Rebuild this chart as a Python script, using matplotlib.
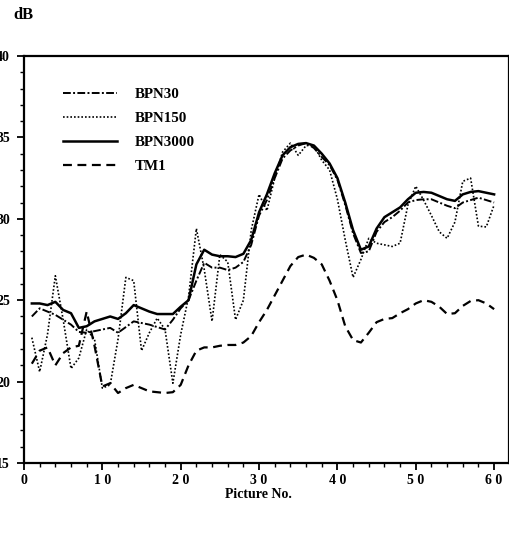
import matplotlib
matplotlib.use("Agg")
import matplotlib.pyplot as plt
from matplotlib.ticker import MultipleLocator, FixedLocator, FixedFormatter
from matplotlib.lines import Line2D

picture_no = list(range(1, 61))

bpn30 = [24.0, 24.5, 24.3, 24.1, 23.8, 23.5, 23.05, 23.0, 23.1, 23.2,
         23.3, 23.0, 23.35, 23.7, 23.6, 23.5, 23.35, 23.2, 23.8, 24.5,
         25.0, 26.2, 27.3, 27.0, 27.0, 26.85, 27.0, 27.35, 28.4, 30.2,
         31.15, 32.5, 33.7, 34.2, 34.5, 34.65, 34.35, 33.8, 33.3, 32.4,
         30.85, 29.1, 27.9, 28.0, 29.2, 29.8, 30.1, 30.5, 31.0, 31.15,
         31.2, 31.2, 31.0, 30.8, 30.65, 31.0, 31.15, 31.3, 31.15, 31.0]

bpn150 = [22.7, 20.6, 22.9, 26.5, 23.8, 20.8, 21.45, 23.2, 22.6, 19.6,
          19.8, 22.6, 26.4, 26.2, 21.9, 23.0, 23.9, 23.2, 19.9, 22.9,
          25.2, 29.4, 26.9, 23.7, 27.8, 27.35, 23.8, 25.0, 29.3, 31.5,
          30.5, 32.5, 34.1, 34.65, 33.9, 34.5, 34.5, 33.6, 33.0, 31.2,
          28.7, 26.4, 27.5, 28.8, 28.5, 28.4, 28.3, 28.5, 30.85, 32.0,
          31.15, 30.2, 29.2, 28.8, 29.8, 32.3, 32.5, 29.55, 29.5, 30.85]

bpn3000 = [24.8, 24.8, 24.7, 24.9, 24.4, 24.2, 23.3, 23.4, 23.7, 23.85,
           24.0, 23.85, 24.2, 24.7, 24.5, 24.3, 24.15, 24.15, 24.15, 24.6,
           25.0, 27.2, 28.1, 27.8, 27.7, 27.7, 27.65, 27.85, 28.7, 30.4,
           31.5, 32.8, 33.9, 34.4, 34.6, 34.65, 34.5, 34.0, 33.4, 32.5,
           31.0, 29.3, 28.1, 28.3, 29.4, 30.1, 30.4, 30.7, 31.2, 31.6,
           31.65, 31.6, 31.4, 31.2, 31.1, 31.5, 31.65, 31.7, 31.6, 31.5]

tm1 = [21.1, 21.9, 22.1, 21.0, 21.75, 22.1, 22.2, 24.3, 22.2, 19.7,
       19.9, 19.3, 19.6, 19.8, 19.6, 19.4, 19.35, 19.3, 19.35, 19.8,
       21.0, 21.9, 22.1, 22.1, 22.2, 22.25, 22.25, 22.4, 22.8, 23.65,
       24.4, 25.3, 26.2, 27.1, 27.65, 27.8, 27.6, 27.2, 26.2, 25.0,
       23.4, 22.55, 22.4, 23.0, 23.65, 23.85, 23.9, 24.2, 24.45, 24.8,
       25.0, 24.9, 24.6, 24.15, 24.2, 24.65, 24.95, 25.0, 24.8, 24.45]

series_names = ["BPN30", "BPN150", "BPN3000", "TM1"]
y_ticks = [15, 20, 25, 30, 35, 40]
y_tick_labels = ["15", "20", "25", "30", "35", "40"]
x_ticks = [0, 10, 20, 30, 40, 50, 60]
x_tick_labels = ["0", "1 0", "2 0", "3 0", "4 0", "5 0", "6 0"]

serif = ["Liberation Serif", "DejaVu Serif"]
W, H = 510, 538
fig = plt.figure(figsize=(W / 100, H / 100), dpi=100)
ax = fig.add_axes([24 / W, 75 / H, 485 / W, 407 / H])

styles = [
    dict(lw=1.4, linestyle=(0, (4, 1.2, 1, 1.2))),
    dict(lw=1.2, linestyle=(0, (1, 1.2))),
    dict(lw=1.8, linestyle="-"),
    dict(lw=1.6, linestyle=(0, (4, 2.5))),
]
for values, st in zip([bpn30, bpn150, bpn3000, tm1], styles):
    ax.plot(picture_no, values, color="black", **st)

ax.set_xlim(0, 61.9)
ax.set_ylim(15, 40)

ax.xaxis.set_major_locator(FixedLocator(x_ticks))
ax.xaxis.set_major_formatter(FixedFormatter(x_tick_labels))
ax.xaxis.set_minor_locator(MultipleLocator(2))
ax.yaxis.set_major_locator(FixedLocator(y_ticks))
ax.yaxis.set_major_formatter(FixedFormatter(y_tick_labels))
ax.yaxis.set_minor_locator(MultipleLocator(1))

ax.tick_params(axis="both", which="major", direction="out", length=5, width=1.3,
               labelsize=10)
ax.tick_params(axis="both", which="minor", direction="out", length=3, width=1.0)
ax.tick_params(axis="y", which="major", pad=5)
ax.tick_params(axis="x", which="major", pad=3)
for lab in ax.get_xticklabels() + ax.get_yticklabels():
    lab.set_fontfamily(serif)
    lab.set_fontweight("bold")

for sp in ax.spines.values():
    sp.set_linewidth(1.6)

handles = [Line2D([], [], color="black", **st) for st in styles]
ax.legend(handles, series_names, loc="upper left", bbox_to_anchor=(0.08, 0.922),
          frameon=False, borderpad=0, borderaxespad=0, handlelength=3.6,
          handletextpad=1.2, labelspacing=0.7,
          prop={"family": serif, "weight": "bold", "size": 10.8})

fig.text(13 / W, 1 - 15 / H, "dB", ha="left", va="center",
         fontfamily=serif, fontweight="bold", fontsize=12)
fig.text(258 / W, 1 - 494 / H, "Picture No.", ha="center", va="center",
         fontfamily=serif, fontweight="bold", fontsize=10)

fig.savefig("out.png", dpi=100)
